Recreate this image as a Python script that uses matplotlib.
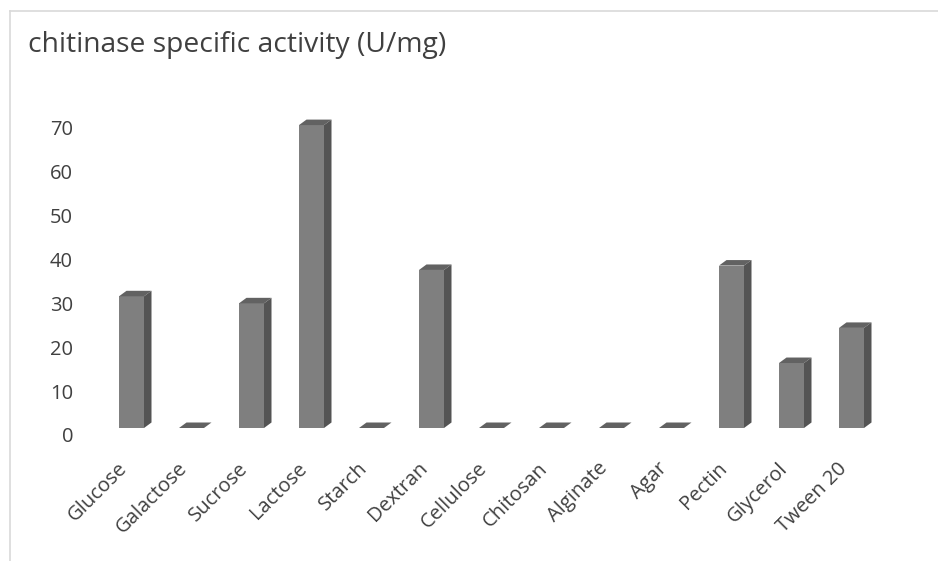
import numpy as np
import matplotlib.pyplot as plt
from matplotlib.patches import Polygon
from matplotlib.lines import Line2D
import matplotlib.transforms as mtransforms

plt.rcParams['font.family'] = ['Open Sans', 'DejaVu Sans']

substrates = ['Glucose', 'Galactose', 'Sucrose', 'Lactose', 'Starch', 'Dextran',
              'Cellulose', 'Chitosan', 'Alginate', 'Agar', 'Pectin', 'Glycerol',
              'Tween 20']
activity = [30, 0, 28.4, 69, 0, 36, 0, 0, 0, 0, 37, 14.8, 22.8]
yticks = [0, 10, 20, 30, 40, 50, 60, 70]

text_col = '#404040'
front_col = '#7f7f7f'
side_col = '#545454'
top_col = '#626262'

fig = plt.figure(figsize=(9.38, 5.61), dpi=100)
W, H = 938, 561

# axes placed so categories span 101.5..881.5 px and 0..70 spans 428..120.7 px
ax = fig.add_axes([101.5 / W, 133 / H, 780 / W, 307.3 / H])
ax.set_xlim(-0.5, len(substrates) - 0.5)
ax.set_ylim(0, 70)

x = np.arange(len(substrates))
bw = 25 / 60
ddx = 7.5 / 60          # depth offset in category units
ddy = 5.5 / 4.39        # depth offset in value units

ax.bar(x, activity, width=bw, color=front_col, edgecolor='none', zorder=2)
for xi, v in zip(x, activity):
    l, r = xi - bw / 2, xi + bw / 2
    top = Polygon([(l, v), (r, v), (r + ddx, v + ddy), (l + ddx, v + ddy)],
                  closed=True, facecolor=top_col, edgecolor='none',
                  clip_on=False, zorder=2)
    side = Polygon([(r, 0), (r + ddx, ddy), (r + ddx, v + ddy), (r, v)],
                   closed=True, facecolor=side_col, edgecolor='none',
                   clip_on=False, zorder=2)
    ax.add_patch(top)
    ax.add_patch(side)

for s in ax.spines.values():
    s.set_visible(False)

ax.set_yticks(yticks)
ax.set_yticklabels([str(t) for t in yticks], fontsize=14.5, color=text_col)
ax.tick_params(axis='y', length=0, pad=20.5)
shift = mtransforms.ScaledTranslation(0, -7 / 100, fig.dpi_scale_trans)
for lab in ax.get_yticklabels():
    lab.set_transform(lab.get_transform() + shift)

ax.set_xticks(x)
ax.set_xticklabels(substrates, fontsize=14.5, color=text_col, rotation=45,
                   ha='right', va='center', rotation_mode='anchor')
ax.tick_params(axis='x', length=0, pad=27)
xshift = mtransforms.ScaledTranslation(-7 / 100, 0, fig.dpi_scale_trans)
for lab in ax.get_xticklabels():
    lab.set_transform(lab.get_transform() + xshift)

fig.text(28 / W, 1 - 52 / H, 'chitinase specific activity (U/mg)',
         fontsize=20.3, color=text_col, ha='left', va='baseline')

# chart border (cropped on the right and bottom)
fig.add_artist(Line2D([9.5 / W, 1], [1 - 10.5 / H, 1 - 10.5 / H],
                      transform=fig.transFigure, color='#d9d9d9', lw=1.2))
fig.add_artist(Line2D([9.5 / W, 9.5 / W], [0, 1 - 10.5 / H],
                      transform=fig.transFigure, color='#d9d9d9', lw=1.2))

fig.savefig('out.png', dpi=100)
